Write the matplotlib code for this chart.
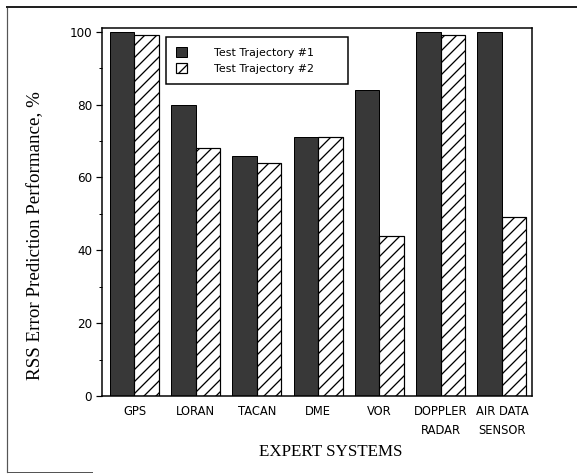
import matplotlib
matplotlib.use("Agg")
import matplotlib.pyplot as plt
from matplotlib.lines import Line2D
import numpy as np

categories = ["GPS", "LORAN", "TACAN", "DME", "VOR", "DOPPLER\nRADAR", "AIR DATA\nSENSOR"]
trajectory1 = [100, 80, 66, 71, 84, 100, 100]
trajectory2 = [99, 68, 64, 71, 44, 99, 49]
series_names = ["Test Trajectory #1", "Test Trajectory #2"]
yticks = [0, 20, 40, 60, 80, 100]

plt.rcParams["hatch.linewidth"] = 1.3

W, H = 577, 474
fig = plt.figure(figsize=(W / 72, H / 72), dpi=72)
ax = fig.add_axes([102 / W, 1 - 396 / H, 430 / W, 368 / H])

x = np.arange(len(categories))
bw = 0.4
ax.bar(x - bw / 2, trajectory1, width=bw, color="#383838", edgecolor="black",
       linewidth=1.0, label=series_names[0])
ax.bar(x + bw / 2, trajectory2, width=bw, color="white", edgecolor="black",
       linewidth=1.2, hatch="//", label=series_names[1])

ax.set_xlim(-0.53, 6.49)
ax.set_ylim(0, 101)
ax.set_yticks(yticks)
ax.set_yticks([10, 30, 50, 70, 90], minor=True)
ax.set_xticks(x)
ax.set_xticklabels(categories, fontfamily="DejaVu Sans", fontsize=11.5, linespacing=1.6)
ax.tick_params(axis="x", length=0, pad=9)
ax.tick_params(axis="y", which="major", direction="out", length=6, width=1.2,
               labelsize=12, pad=4)
ax.tick_params(axis="y", which="minor", direction="out", length=3, width=1.0)
for lab in ax.get_yticklabels():
    lab.set_fontfamily("DejaVu Sans")
for sp in ax.spines.values():
    sp.set_linewidth(1.5)
    sp.set_color("black")

leg = ax.legend(loc="upper left",
                bbox_to_anchor=((166 - 102) / 430, (396 - 89) / 368,
                                (348 - 166) / 430, (89 - 37) / 368),
                mode="expand", fancybox=False, framealpha=1, edgecolor="black",
                prop={"family": "DejaVu Sans", "size": 11},
                handlelength=1.0, handleheight=1.0, handletextpad=2.5,
                labelspacing=0.5, borderpad=0.9, borderaxespad=0)
leg.get_frame().set_linewidth(1.5)

fig.text(331 / W, 1 - 452 / H, "EXPERT SYSTEMS", ha="center", va="center",
         fontfamily="Liberation Serif", fontsize=17)
fig.text(36 / W, 1 - 236 / H, "RSS Error Prediction Performance, %", rotation=90,
         ha="center", va="center", fontfamily="Liberation Serif", fontsize=19)

# scanned page frame
fig.add_artist(Line2D([7 / W, 7 / W], [1 - 7 / H, 1 - 472 / H], transform=fig.transFigure,
                      color="#555555", linewidth=1.2))
fig.add_artist(Line2D([7 / W, 1.0], [1 - 7 / H, 1 - 7 / H], transform=fig.transFigure,
                      color="#222222", linewidth=2.0))
fig.add_artist(Line2D([7 / W, 92 / W], [1 - 472 / H, 1 - 472 / H], transform=fig.transFigure,
                      color="#555555", linewidth=1.0))

fig.savefig("out.png", dpi=72)
